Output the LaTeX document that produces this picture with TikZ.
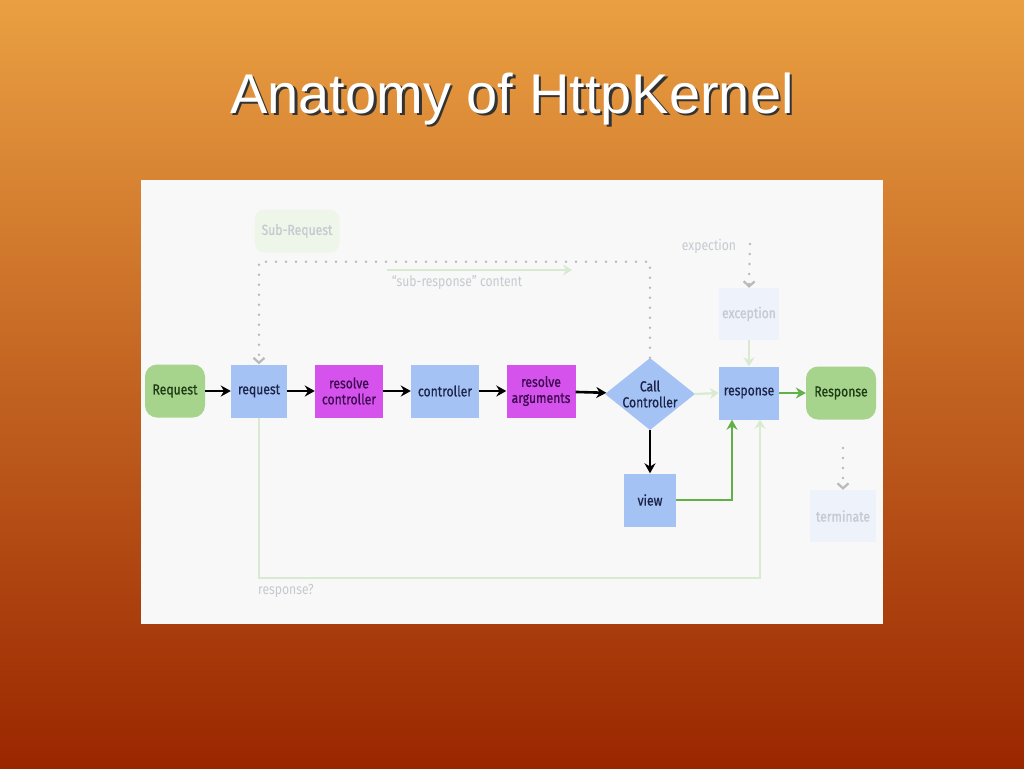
\documentclass[tikz,border=0pt]{standalone}
\usepackage{fontspec}
\setmainfont{Liberation Sans}
\newfontfamily\dfont[FakeStretch=0.84,FakeBold=0.7]{Fira Sans}
\newfontfamily\lfont[FakeStretch=0.84]{Fira Sans}
\usetikzlibrary{arrows.meta,shapes.geometric}
\definecolor{bgtop}{HTML}{EAA042}
\definecolor{bgmid}{HTML}{D0601A}
\definecolor{bgbot}{HTML}{9A2600}
\definecolor{panel}{HTML}{F8F8F8}
\definecolor{bluef}{HTML}{A4C2F4}
\definecolor{magf}{HTML}{D652EC}
\definecolor{greenf}{HTML}{A7D48C}
\definecolor{navy}{HTML}{1C2448}
\definecolor{purp}{HTML}{3C0A50}
\definecolor{dgreen}{HTML}{1E3A14}
\definecolor{lgreen}{HTML}{D8EBD0}
\definecolor{agreen}{HTML}{62B048}
\definecolor{dotgray}{HTML}{BABABA}
\definecolor{paleblue}{HTML}{EDF2FB}
\definecolor{palegreen}{HTML}{EEF6E9}
\definecolor{paletext}{HTML}{C6CAD0}
\begin{document}
\begin{tikzpicture}[x=1pt,y=-1pt,
  dtext/.style={font=\dfont\fontsize{14.5}{16}\selectfont},
  box/.style={dtext,minimum height=53pt,inner sep=1pt,align=center},
  bluebox/.style={box,fill=bluef,text=navy},
  magbox/.style={box,fill=magf,text=purp},
  greenbox/.style={box,fill=greenf,text=dgreen,rounded corners=12pt},
  palebox/.style={box,fill=paleblue,text=paletext},
  blk/.style={line width=2.6pt,black,-{Stealth[length=10pt,width=11pt]}},
  garrow/.style={line width=2.6pt,agreen,-{Stealth[length=10pt,width=11pt]}},
  larrow/.style={line width=2.2pt,lgreen,-{Stealth[length=9pt,width=11pt]}},
  dotline/.style={line width=2.8pt,dotgray,line cap=round,dash pattern=on 0pt off 10pt,-{Straight Barb[length=5pt,width=11pt,line width=2.2pt]}},
  lbl/.style={font=\lfont\fontsize{14.5}{16}\selectfont,text=paletext}]
\useasboundingbox (0,0) rectangle (1024,768);
% background
\shade[top color=bgtop,middle color=bgmid,bottom color=bgbot] (0,0) rectangle (1024,768);
% panel
\fill[panel] (141,180) rectangle (883,624);
% title
\node[text=black!80,font=\fontsize{56}{60}\selectfont] at (514.5,101.5) {Anatomy of HttpKernel};
\node[text=white,font=\fontsize{56}{60}\selectfont] (title) at (512,99) {Anatomy of HttpKernel};
% nodes
\node[greenbox,minimum width=60pt] (Req) at (175,391) {Request};
\node[bluebox,minimum width=56pt] (req) at (259,391) {request};
\node[magbox,minimum width=68pt] (rc) at (349,391) {resolve\\controller};
\node[bluebox,minimum width=68pt] (ctrl) at (445,391) {controller};
\node[magbox,minimum width=69pt] (ra) at (541,391) {resolve\\arguments};
\node[diamond,dtext,fill=bluef,text=navy,align=center,inner sep=0pt,minimum width=90pt,minimum height=72pt,shape aspect=1.25] (cc) at (650,394) {Call\\Controller};
\node[bluebox,minimum width=60pt] (resp) at (749,393) {response};
\node[greenbox,minimum width=70pt] (Resp) at (841,393) {Response};
\node[palebox,minimum width=60pt,minimum height=52pt] (exc) at (749,314) {exception};
\node[bluebox,minimum width=52pt] (view) at (650,500) {view};
\node[palebox,minimum width=66pt,minimum height=52pt] (term) at (843,516) {terminate};
\node[box,fill=palegreen,text=paletext,rounded corners=10pt,minimum width=85pt,minimum height=43pt] (sub) at (297,231) {Sub-Request};
% labels
\node[lbl] (subresp) at (457,283) {“sub-response” content};
\node[lbl] (explbl) at (709,246) {expection};
\node[lbl] (resplbl) at (286,591) {response?};
\coordinate (exstart) at (750,244);
\coordinate (tstart) at (843,448);
\coordinate (srA) at (387,270);
\coordinate (srB) at (572,270);
% main flow
\draw[blk] (Req) -- (req);
\draw[blk] (req) -- (rc);
\draw[blk] (rc) -- (ctrl);
\draw[blk] (ctrl) -- (ra);
\draw[blk] (ra) -- (cc);
\draw[blk] (cc.south) -- (view.north);
\draw[larrow] (cc.east) -- (resp.west);
\draw[garrow] (resp) -- (Resp);
\draw[garrow] (view.east) -| ([xshift=-17pt]resp.south);
\draw[larrow] (req.south) -- ++(0,160) -| ([xshift=11pt]resp.south);
\draw[larrow] (exc.south) -- (resp.north);
\draw[larrow,line width=2.6pt] (srA) -- (srB);
% dotted
\draw[dotline] (cc.north) -- ++(0,-96) -| (req.north);
\draw[dotline] (exstart) -- (exc.north);
\draw[dotline] (tstart) -- (term.north);
\end{tikzpicture}
\end{document}
